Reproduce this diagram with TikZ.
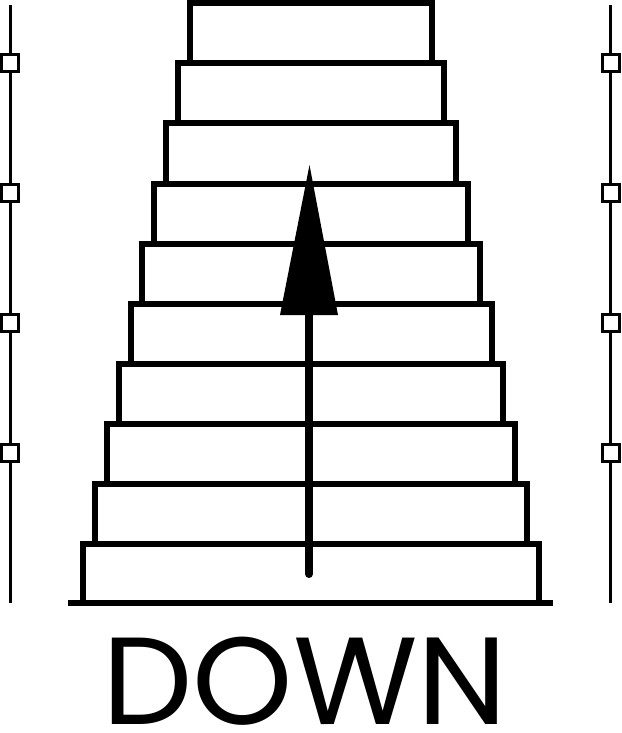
\documentclass[tikz,border=0pt]{standalone}
\usepackage{fontspec}
\newfontfamily\popfont{Poppins}
\begin{document}
\begin{tikzpicture}[x=1pt,y=-1pt,
  stepline/.style={line width=6pt},
  rail/.style={line width=3pt},
  railbox/.style={draw,fill=white,line width=3pt,minimum size=17pt,inner sep=0pt,outer sep=0pt},
  label/.style={font=\popfont\fontsize{124}{124}\selectfont,inner sep=0pt,anchor=base,xscale=1.03}]
\useasboundingbox (0,0) rectangle (621,733);
% steps
\foreach \i in {0,...,9}{
  \pgfmathsetmacro{\xl}{190-11.9*\i}
  \pgfmathsetmacro{\xr}{432+11.9*\i}
  \pgfmathsetmacro{\yt}{3.5+60*\i}
  \pgfmathsetmacro{\yb}{63.5+60*\i}
  \draw[stepline] (\xl,\yb) -- (\xl,\yt) -- (\xr,\yt) -- (\xr,\yb);
}
\draw[stepline] (68,603) -- (553,603);
% rails
\draw[rail] (10,5) -- (10,603);
\draw[rail] (610.5,5) -- (610.5,603);
\foreach \y/\n in {63/a,193/b,323/c,453/d}{
  \node[railbox] (L\n) at (10,\y) {};
  \node[railbox] (R\n) at (610.5,\y) {};
}
% arrow
\draw[line width=8pt,line cap=round] (309,574) -- (309,312);
\fill (280,315) -- (338,315) -- (309.5,165) -- cycle;
% label
\node[label] (down) at (305,724) {DOWN};
\end{tikzpicture}
\end{document}
